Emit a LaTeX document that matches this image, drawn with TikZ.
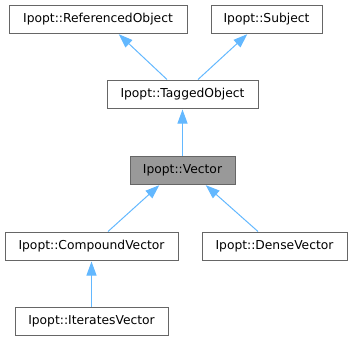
\documentclass[tikz,border=0pt]{standalone}
\usepackage{fontspec}
\setmainfont{DejaVu Sans}
\usetikzlibrary{arrows.meta}
\definecolor{edgeblue}{HTML}{63B8FF}
\definecolor{boxgray}{HTML}{666666}
\definecolor{curfill}{HTML}{999999}
\begin{document}
\begin{tikzpicture}[x=1pt,y=-1pt,
  cls/.style={draw=boxgray, line width=1pt, fill=white, rectangle,
    minimum height=28pt, inner sep=0pt, font=\fontsize{12.3}{14}\selectfont},
  current/.style={cls, fill=curfill},
  inherit/.style={draw=edgeblue, line width=1pt, shorten >=1pt,
    -{Triangle[length=14pt,width=10pt,fill=edgeblue]}}]
\useasboundingbox (0,0) rectangle (352,341);
\node[cls, minimum width=178pt] (ref) at (98,19) {Ipopt::ReferencedObject};
\node[cls, minimum width=111pt] (subj) at (266.5,19) {Ipopt::Subject};
\node[cls, minimum width=151pt] (tagged) at (182.5,94) {Ipopt::TaggedObject};
\node[current, minimum width=105pt] (vec) at (182.5,170) {Ipopt::Vector};
\node[cls, minimum width=173pt] (comp) at (91.5,246) {Ipopt::CompoundVector};
\node[cls, minimum width=145pt] (dense) at (274.5,246) {Ipopt::DenseVector};
\node[cls, minimum width=153pt] (iter) at (91.5,321.5) {Ipopt::IteratesVector};
\draw[inherit] ([xshift=-15.5pt]tagged.north) -- ([xshift=20pt]ref.south);
\draw[inherit] ([xshift=15.5pt]tagged.north) -- ([xshift=-18.5pt]subj.south);
\draw[inherit] (vec.north) -- (tagged.south);
\draw[inherit] ([xshift=16.5pt]comp.north) -- ([xshift=-22.5pt]vec.south);
\draw[inherit] ([xshift=-16.5pt]dense.north) -- ([xshift=22.5pt]vec.south);
\draw[inherit] (iter.north) -- (comp.south);
\end{tikzpicture}
\end{document}
